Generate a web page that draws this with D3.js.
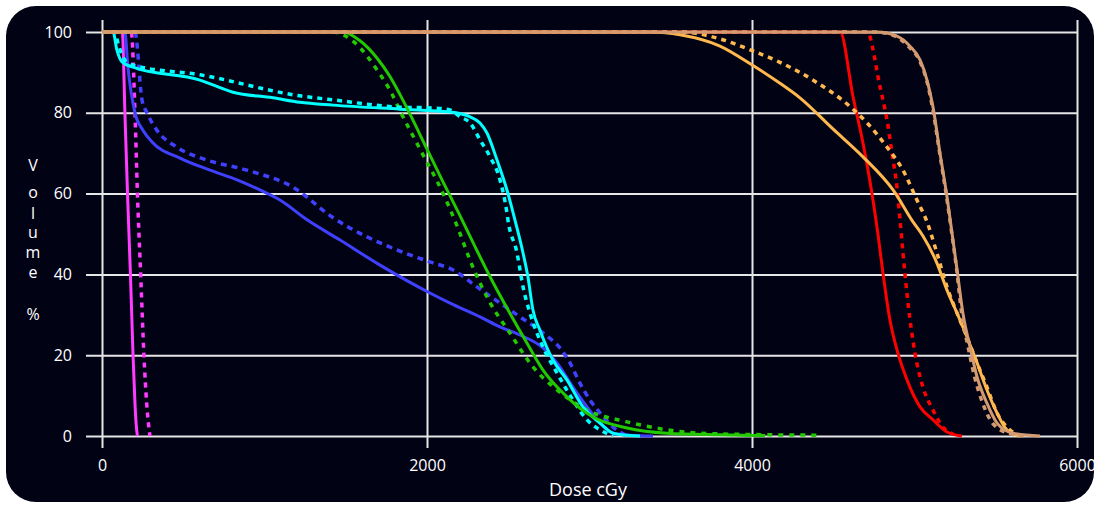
<!DOCTYPE html>
<html>
<head>
<meta charset="utf-8">
<script src="https://cdn.jsdelivr.net/npm/d3@7"></script>
<style>
  body { margin: 0; background: #fff; }
  svg { display: block; }
  .tick text { font-family: "Open Sans", sans-serif; font-size: 16px; fill: #fff; }
  .tick line { stroke: #e6e6e6; stroke-width: 2; }
</style>
</head>
<body>
<div id="chart"></div>
<script>
// dose-volume curves, dose in cGy, volume in %
const xTicks = [0, 2000, 4000, 6000];
const yTicks = [0, 20, 40, 60, 80, 100];

const magentaSolid = [[0,100],[125,100],[141,80],[157,60],[175,40],[191,20],[203,8],[210,3],[218,0]];
const magentaDot = [[0,100],[180,100],[203,80],[218,60],[238,40],[258,20],[275,8],[295,0]];

const blueSolid = [[0,100],[141,100],[158,92],[203,80],[252,75.7],[308,72.8],[480,68.8],[665,65.8],[831,63.4],
  [972,60.9],[1095,58.4],[1262,53.5],[1465,48.5],[1711,42.3],[2018,35.4],[2142,32.9],[2326,29.5],[2449,27],
  [2572,25],[2714,21.8],[2800,18.1],[2898,12.1],[2985,7.2],[3065,3.2],[3145,0.7],[3250,0.2],[3391,0]];
const blueDot = [[0,100],[203,100],[246,83.2],[277,80],[338,75.7],[461,71.5],[646,68.3],[892,65.8],[1175,61.6],
  [1416,54.2],[1850,45.5],[2018,43.1],[2160,41.1],[2308,36.9],[2449,32.9],[2572,29.5],[2714,25.5],[2818,21.8],
  [2880,18.1],[2941,13.1],[3003,8.9],[3065,5.7],[3145,2.2],[3220,0.3],[3250,0]];

const cyanSolid = [[0,100],[68,100],[92,95.5],[123,92.6],[191,91.3],[603,88.1],[806,85.1],[1052,83.7],[1218,82.6],
  [1422,81.9],[1834,80.9],[2142,80.2],[2265,79],[2326,77.5],[2369,75],[2431,68.3],[2492,60.9],[2541,53.5],
  [2591,45.3],[2621,39.4],[2652,31.2],[2695,26.2],[2775,18.8],[2861,13.9],[2960,7.2],[3065,3.2],[3145,0.7],
  [3250,0.1],[3311,0]];
const cyanDot = [[0,100],[80,100],[98,97.3],[142,93],[191,91.8],[603,89.4],[1218,84.2],[1422,83.2],[1834,81.4],
  [2038,81.2],[2142,80.7],[2203,79],[2265,77.5],[2326,73.3],[2388,69.1],[2449,63.4],[2492,55.2],[2498,53.5],
  [2554,45.3],[2591,36.9],[2634,30.4],[2714,22],[2800,15.6],[2898,8.9],[2985,4],[3065,1.5],[3145,0]];

const greenSolid = [[0,100],[1483,100],[1582,98],[1693,93.5],[1772,89],[1834,84.5],[1900,79.3],[2000,71],
  [2100,62.8],[2200,54.8],[2300,46.5],[2400,38.5],[2510,30.4],[2615,23],[2714,16.3],[2861,9.7],[3022,4.7],
  [3231,2],[3477,0.7],[3800,0.3],[4080,0.1]];
const greenDot = [[0,100],[1415,100],[1557,97.3],[1693,90.6],[1780,85],[1840,80],[1957,71],[2098,60.1],
  [2190,51.5],[2265,43.5],[2388,33],[2510,25.5],[2652,17.1],[2800,11.4],[2985,6.4],[3231,3.5],
  [3680,0.7],[4100,0.3],[4420,0.2]];

const redSolid = [[0,100],[4542,100],[4622,83.9],[4683,72.5],[4738,60.1],[4775,50],[4806,40.3],[4849,28.7],
  [4898,20.5],[4954,13.9],[5034,7.2],[5114,4],[5200,1],[5292,0]];
const redDot = [[0,100],[4708,100],[4788,86.4],[4831,78.2],[4862,70],[4892,61.6],[4911,53.5],[4929,45.3],
  [4960,32.9],[5003,20.5],[5052,12.1],[5114,6.4],[5175,2.2],[5237,0.5]];

const orangeSolid = [[0,100],[3391,100],[3557,99.3],[3803,96.5],[3994,92],[4172,87.3],[4295,83.7],[4498,76],
  [4683,69.1],[4868,60.9],[4991,53],[5052,49.5],[5138,42.8],[5200,36.1],[5262,30.4],[5323,24.5],[5385,18.1],
  [5446,11.4],[5508,5.7],[5569,1.5],[5649,0]];
const orangeDot = [[0,100],[3557,100],[3803,98.3],[3994,95.5],[4172,92.5],[4295,90],[4399,87.5],[4560,83],
  [4708,77.5],[4831,71.5],[4929,65.8],[5015,58.4],[5077,53],[5138,45.3],[5200,36.9],[5262,30.4],[5323,24.5],
  [5385,18.1],[5446,12.1],[5508,5.7],[5588,1.5],[5649,0]];

const tanSolid = [[0,100],[4769,100],[4892,99],[4972,96.5],[5034,93.1],[5077,88.1],[5114,81.4],[5157,70],
  [5200,59.2],[5231,50.2],[5262,41.1],[5298,30.4],[5342,22],[5385,14.6],[5446,8.1],[5508,3.2],[5606,0.7],[5772,0]];
const tanDot = [[0,100],[4760,100],[4880,99],[4960,96.5],[5030,93],[5075,88],[5112,81],[5155,70],[5198,59],
  [5230,50],[5260,41],[5290,30.4],[5330,22],[5370,14.6],[5420,8.1],[5480,3.2],[5580,0.7],[5700,0]];

const curves = [
  { data: magentaSolid, color: "#ff3cff", dash: null },
  { data: magentaDot, color: "#ff3cff", dash: "5,5" },
  { data: blueDot, color: "#4040ff", dash: "6,5" },
  { data: blueSolid, color: "#4040ff", dash: null },
  { data: greenDot, color: "#22c800", dash: "5,6" },
  { data: cyanDot, color: "#00ffff", dash: "5,5" },
  { data: cyanSolid, color: "#00ffff", dash: null },
  { data: greenSolid, color: "#22c800", dash: null },
  { data: redSolid, color: "#ff0000", dash: null },
  { data: redDot, color: "#ff0000", dash: "5,5" },
  { data: orangeSolid, color: "#ffb84d", dash: null },
  { data: orangeDot, color: "#ffb84d", dash: "5,5" },
  { data: tanDot, color: "#d49a70", dash: "5,5" },
  { data: tanSolid, color: "#d49a70", dash: null }
];

const W = 1094, H = 505;
const svg = d3.select("#chart").append("svg")
  .attr("width", W)
  .attr("height", H);

svg.append("rect")
  .attr("x", 6).attr("y", 6)
  .attr("width", 1088).attr("height", 496)
  .attr("rx", 30).attr("ry", 30)
  .attr("fill", "#020215");

const x = d3.scaleLinear().domain([0, 6000]).range([102, 1077]);
const y = d3.scaleLinear().domain([0, 100]).range([436, 32]);

// grid lines double as ticks
svg.append("g")
  .attr("transform", "translate(86,0)")
  .call(d3.axisLeft(y).tickValues(yTicks).tickSize(-(1077 - 86)).tickPadding(14).tickFormat(d3.format("d")))
  .call(g => g.select(".domain").remove());

svg.append("g")
  .attr("transform", "translate(0,448)")
  .call(d3.axisBottom(x).tickValues(xTicks).tickSize(-(448 - 20)).tickPadding(12).tickFormat(d3.format("d")))
  .call(g => g.select(".domain").remove());

const line = d3.line()
  .x(d => x(d[0]))
  .y(d => y(d[1]))
  .curve(d3.curveMonotoneX);

svg.append("g")
  .selectAll("path")
  .data(curves)
  .join("path")
  .attr("d", d => line(d.data))
  .attr("fill", "none")
  .attr("stroke", d => d.color)
  .attr("stroke-width", d => d.dash ? 3.5 : 3)
  .attr("stroke-dasharray", d => d.dash);

svg.append("text")
  .attr("x", 588)
  .attr("y", 496)
  .attr("text-anchor", "middle")
  .attr("fill", "#fff")
  .style("font-family", "'Open Sans', sans-serif")
  .style("font-size", "18px")
  .text("Dose cGy");

const yTitle = svg.append("text")
  .attr("text-anchor", "middle")
  .attr("fill", "#fff")
  .style("font-family", "'Open Sans', sans-serif")
  .style("font-size", "16px");
const letters = ["V", "o", "l", "u", "m", "e", "%"];
const baselines = [171, 198, 219, 238, 258, 278, 320];
letters.forEach((c, i) => {
  yTitle.append("tspan").attr("x", 33).attr("y", baselines[i]).text(c);
});
</script>
</body>
</html>
